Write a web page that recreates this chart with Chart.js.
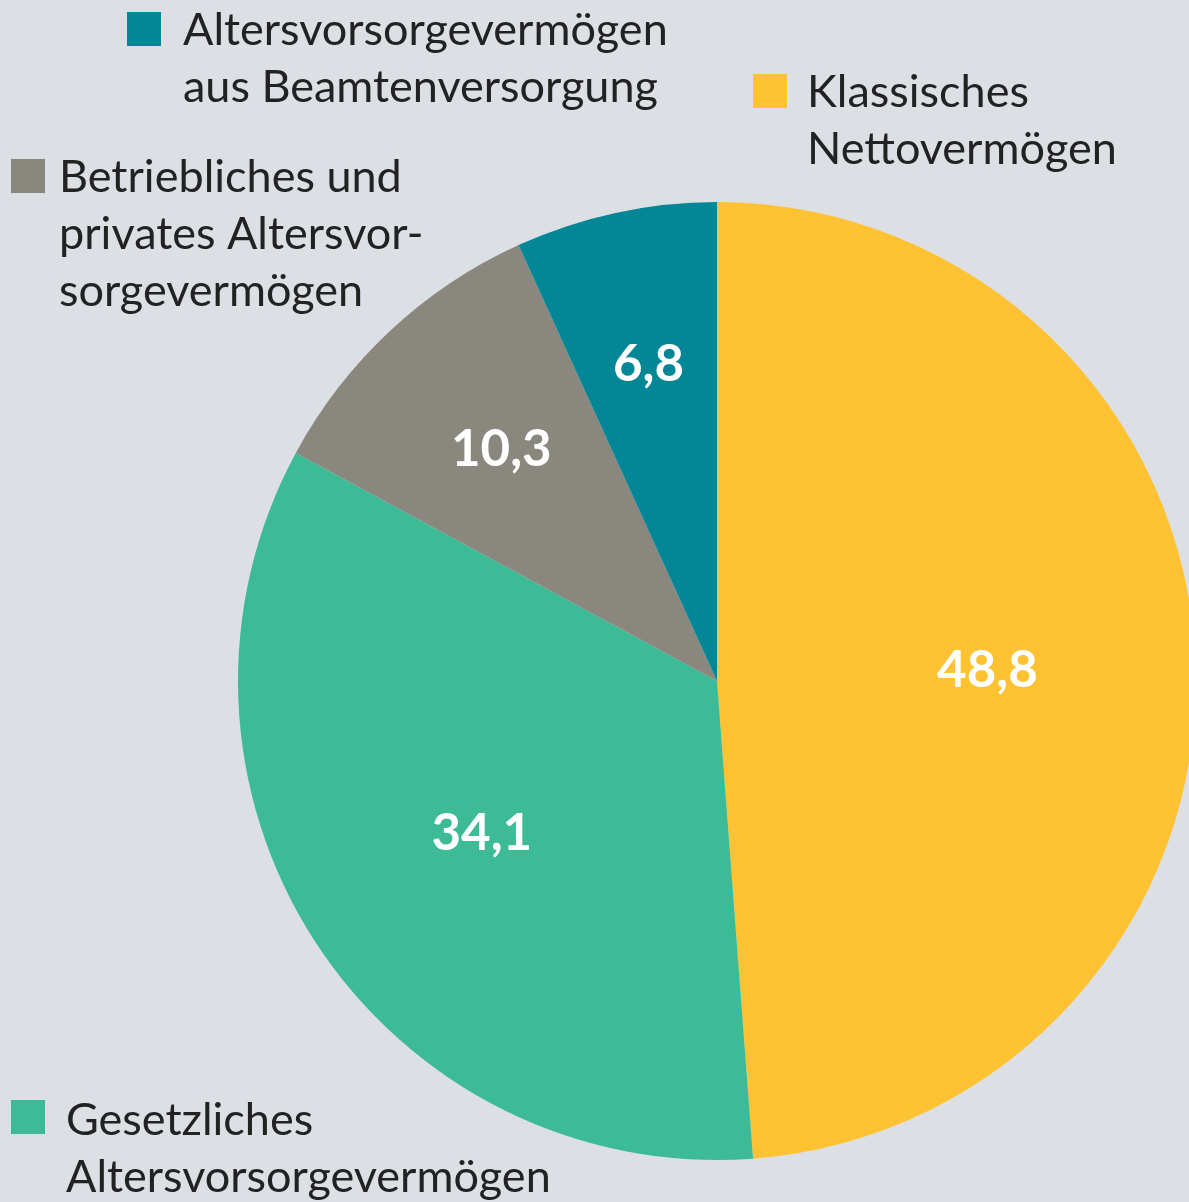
<!DOCTYPE html>
<html lang="de">
<head>
    <meta charset="UTF-8">
    <title>Vermögensanteile</title>
    <script src="https://cdn.jsdelivr.net/npm/chart.js"></script>
    <style>
        html, body {
            margin: 0;
            padding: 0;
            background: #dce0e4;
            overflow: hidden;
        }
        #wrap {
            position: relative;
            width: 1189px;
            height: 1202px;
        }
    </style>
</head>
<body>
    <div id="wrap">
        <canvas id="pieChart"></canvas>
    </div>

    <script>
        // Kategorien (mehrzeilig wie im Original) und Anteile in Prozent
        const categories = [
            ['Klassisches', 'Nettovermögen'],
            ['Gesetzliches', 'Altersvorsorgevermögen'],
            ['Betriebliches und', 'privates Altersvor-', 'sorgevermögen'],
            ['Altersvorsorgevermögen', 'aus Beamtenversorgung']
        ];
        const shares = [48.8, 34.1, 10.3, 6.8];
        const sliceColors = ['#fec233', '#3dbb96', '#8a877f', '#038696'];

        const FONT = 'Lato, "Source Sans Pro", "Open Sans", sans-serif';

        // Where each legend block sits (square + text lines)
        const legendPlacement = [
            { sx: 753, sy: 74, tx: 807, ty: 107 },
            { sx: 11, sy: 1100, tx: 66, ty: 1135 },
            { sx: 11, sy: 159, tx: 59, ty: 192 },
            { sx: 127, sy: 12, tx: 183, ty: 45 }
        ];
        // how far out the value labels sit (fraction of the radius)
        const labelRadius = [0.565, 0.585, 0.66, 0.675];

        // Draws the value numbers inside each slice
        const valueLabels = {
            id: 'valueLabels',
            afterDatasetsDraw(chart) {
                const ctx = chart.ctx;
                const meta = chart.getDatasetMeta(0);
                ctx.save();
                ctx.fillStyle = '#ffffff';
                ctx.font = 'bold 51px ' + FONT;
                ctx.textAlign = 'center';
                ctx.textBaseline = 'middle';
                meta.data.forEach((arc, i) => {
                    const p = arc.getProps(['x', 'y', 'startAngle', 'endAngle', 'outerRadius'], true);
                    const mid = (p.startAngle + p.endAngle) / 2;
                    const r = p.outerRadius * labelRadius[i];
                    const x = p.x + Math.cos(mid) * r;
                    const y = p.y + Math.sin(mid) * r;
                    const txt = chart.data.datasets[0].data[i].toFixed(1).replace('.', ',');
                    ctx.fillText(txt, x, y);
                });
                ctx.restore();
            }
        };

        // Free-standing legend blocks around the pie
        const placedLegend = {
            id: 'placedLegend',
            afterDraw(chart) {
                const ctx = chart.ctx;
                ctx.save();
                ctx.font = '45px ' + FONT;
                ctx.textBaseline = 'alphabetic';
                ctx.textAlign = 'left';
                chart.data.labels.forEach((lines, i) => {
                    const pos = legendPlacement[i];
                    ctx.fillStyle = chart.data.datasets[0].backgroundColor[i];
                    ctx.fillRect(pos.sx, pos.sy, 34, 34);
                    ctx.fillStyle = '#222222';
                    lines.forEach((line, j) => {
                        ctx.fillText(line, pos.tx, pos.ty + j * 57);
                    });
                });
                ctx.restore();
            }
        };

        new Chart(document.getElementById('pieChart'), {
            type: 'pie',
            data: {
                labels: categories,
                datasets: [{
                    data: shares,
                    backgroundColor: sliceColors,
                    borderWidth: 0,
                    radius: 479
                }]
            },
            options: {
                responsive: true,
                maintainAspectRatio: false,
                animation: false,
                layout: {
                    padding: { left: 245, right: 0, top: 202, bottom: 42 }
                },
                plugins: {
                    legend: { display: false },
                    tooltip: { enabled: false }
                }
            },
            plugins: [valueLabels, placedLegend]
        });
    </script>
</body>
</html>
